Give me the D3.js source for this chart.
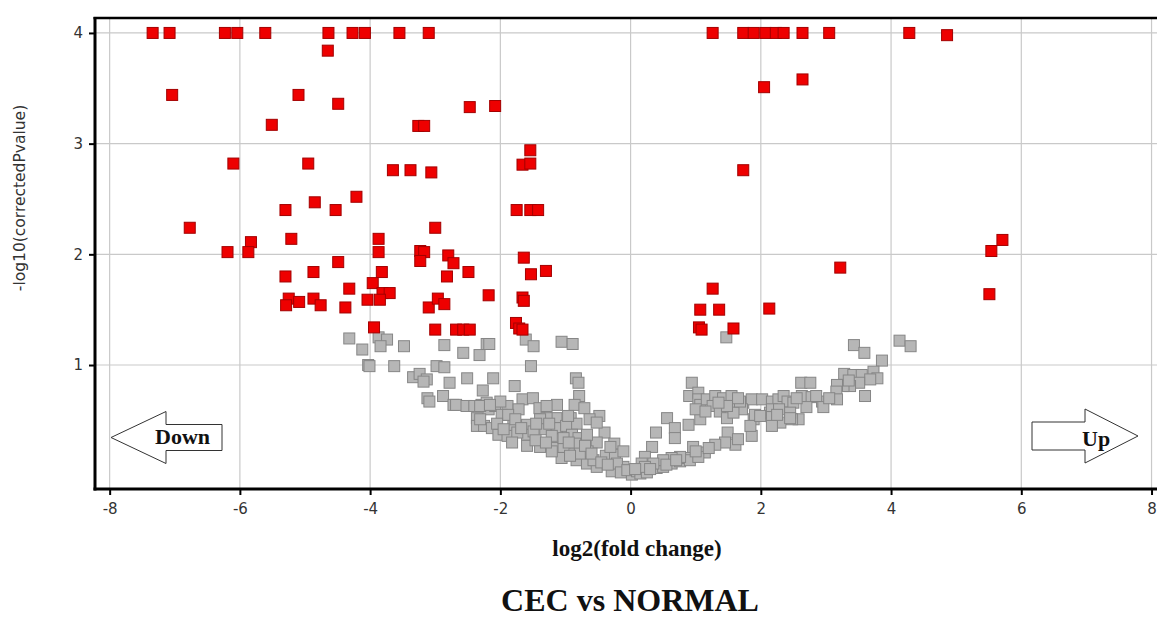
<!DOCTYPE html>
<html>
<head>
<meta charset="utf-8">
<script src="https://cdn.jsdelivr.net/npm/d3@7"></script>
<style>
  html, body { margin: 0; padding: 0; background: #fff; }
  svg { display: block; }
</style>
</head>
<body>
<svg id="chart" width="1157" height="619"></svg>
<script>
// Volcano plot: CEC vs NORMAL
// log2(fold change) on x, -log10(corrected p-value) on y

const xTicks = [-8, -6, -4, -2, 0, 2, 4, 6, 8];
const yTicks = [1, 2, 3, 4];

// significant genes [log2FC, -log10(p)]
const significant = [
  [-7.34, 4], [-7.08, 4], [-6.23, 4], [-6.04, 4], [-5.61, 4], [-4.64, 4], [-4.27, 4], [-4.08, 4],
  [-3.55, 4], [-3.10, 4], [1.26, 4], [1.73, 4], [1.89, 4], [2.07, 4], [2.23, 4], [2.35, 4],
  [2.64, 4], [3.05, 4], [4.28, 4], [4.86, 3.98],
  [-4.65, 3.84], [-7.04, 3.44], [-5.10, 3.44], [-4.49, 3.36], [-5.51, 3.17], [-6.10, 2.82],
  [-4.95, 2.82], [-3.65, 2.76], [-3.38, 2.76], [-3.06, 2.74], [-4.21, 2.52], [-4.85, 2.47],
  [-5.30, 2.40], [-4.53, 2.40], [-6.77, 2.24], [-5.21, 2.14], [-3.87, 2.14], [-5.83, 2.11],
  [-6.19, 2.02], [-5.87, 2.02], [-3.87, 2.02], [-4.49, 1.93],
  [2.05, 3.51], [2.64, 3.58], [-2.47, 3.33], [-2.08, 3.34], [-3.26, 3.16], [-3.17, 3.16],
  [-1.54, 2.94], [-1.66, 2.81], [-1.54, 2.82], [1.73, 2.76], [-1.75, 2.40], [-1.54, 2.40],
  [-1.42, 2.40], [-3.00, 2.24], [5.71, 2.13], [5.54, 2.03], [5.51, 1.64], [3.22, 1.88], [2.13, 1.51],
  [-3.23, 2.03], [-3.17, 2.02], [-3.23, 1.94], [-2.80, 1.99], [-2.72, 1.92], [-1.64, 1.97],
  [-5.30, 1.80], [-4.87, 1.84], [-3.82, 1.84], [-2.82, 1.80], [-2.49, 1.84], [-1.53, 1.82],
  [-1.30, 1.85], [-4.32, 1.69], [-3.96, 1.74], [-3.81, 1.65], [-3.70, 1.65], [-2.18, 1.63],
  [-1.66, 1.61], [-1.64, 1.58], [-5.25, 1.60], [-5.09, 1.57], [-4.87, 1.60], [-4.76, 1.54],
  [-4.38, 1.52], [-4.04, 1.59], [-3.85, 1.59], [-5.29, 1.54], [-3.10, 1.52], [-2.96, 1.60],
  [-2.86, 1.55], [-3.94, 1.34], [-3.00, 1.32], [-2.68, 1.32], [-2.57, 1.32], [-2.47, 1.32],
  [-1.76, 1.38], [-1.71, 1.33], [-1.66, 1.32], [1.26, 1.69], [1.07, 1.50], [1.36, 1.50],
  [1.05, 1.34], [1.09, 1.32], [1.58, 1.33]
];

// genes below the significance cut-off [log2FC, -log10(p)]
const notSignificant = [
  [-4.32, 1.24], [-4.12, 1.14], [-3.87, 1.25], [-3.74, 1.23], [-3.84, 1.17], [-3.48, 1.17],
  [-4.03, 1.00], [-4.01, 0.99], [-3.63, 0.99], [-2.86, 1.18], [-2.57, 1.11], [-2.32, 1.09],
  [-2.21, 1.19], [-2.98, 0.99], [-2.86, 0.98], [-3.34, 0.89], [-3.24, 0.92], [-3.13, 0.87],
  [-3.18, 0.85], [-2.78, 0.84], [-2.51, 0.88], [-2.27, 0.77], [-3.12, 0.70], [-3.09, 0.67],
  [-2.88, 0.72], [-2.72, 0.64], [-2.68, 0.64], [-2.52, 0.63], [-2.40, 0.63], [-2.29, 0.64],
  [-2.36, 0.52], [-2.36, 0.45], [-2.25, 0.45], [-2.18, 0.60],
  [-2.17, 1.19], [-1.61, 1.23], [-1.49, 1.17], [-1.06, 1.21], [-0.89, 1.19], [-1.53, 0.99],
  [-2.11, 0.88], [-1.78, 0.81], [-0.84, 0.88], [-0.80, 0.84], [-0.79, 0.72], [-1.66, 0.69],
  [-1.50, 0.70], [-0.86, 0.64], [-0.71, 0.61], [-1.40, 0.61], [-2.08, 0.63], [-1.89, 0.63],
  [-1.72, 0.60], [-0.48, 0.54], [-0.63, 0.51], [-0.92, 0.52], [-0.83, 0.47], [-1.14, 0.52],
  [-1.16, 0.43], [-1.29, 0.52], [-1.39, 0.51], [-1.59, 0.46], [-1.80, 0.45], [-1.98, 0.55],
  [-2.13, 0.43], [-2.31, 0.51], [-2.03, 0.37], [-1.89, 0.36], [-1.59, 0.37], [-1.74, 0.39],
  [-1.31, 0.42], [-1.13, 0.43], [-0.99, 0.45], [-0.90, 0.37], [-0.80, 0.34], [-0.40, 0.39],
  [-0.25, 0.29], [-0.52, 0.30], [-1.82, 0.30], [-1.59, 0.27], [-1.39, 0.26], [-1.19, 0.25],
  [-1.03, 0.26], [-0.85, 0.29], [-1.06, 0.16], [-0.83, 0.14], [-0.66, 0.22], [-0.67, 0.11],
  [-0.52, 0.08], [-0.38, 0.18], [-0.24, 0.19], [-0.29, 0.04], [-0.11, 0.08], [0.02, 0.01],
  [-2.21, 0.66], [-2.00, 0.67], [-1.88, 0.55], [-1.77, 0.51], [-1.49, 0.40], [-1.21, 0.36],
  [-0.67, 0.37], [-1.03, 0.34], [-1.13, 0.64], [-1.29, 0.63], [-0.96, 0.54], [-0.52, 0.48],
  [-0.31, 0.26], [-0.11, 0.22], [-0.21, 0.11], [-0.57, 0.14], [-0.78, 0.20], [-0.93, 0.18],
  [-1.21, 0.22], [-2.31, 0.63], [-2.16, 0.64],
  [-2.05, 0.47], [-1.95, 0.42], [-1.68, 0.43], [-1.45, 0.47], [-1.25, 0.47], [-1.46, 0.32],
  [-1.30, 0.30], [-0.95, 0.30], [-0.70, 0.27], [-0.60, 0.20], [-0.45, 0.12], [-0.35, 0.10],
  [-0.15, 0.03], [-0.05, 0.05],
  [1.47, 1.25], [0.94, 0.84], [0.90, 0.72], [1.04, 0.75], [1.04, 0.69], [1.07, 0.64],
  [1.17, 0.69], [1.30, 0.72], [1.42, 0.70], [1.55, 0.72], [1.26, 0.63], [1.37, 0.58],
  [1.48, 0.52], [1.58, 0.63], [1.73, 0.66], [1.86, 0.69], [2.02, 0.69], [1.71, 0.60],
  [1.89, 0.51], [1.86, 0.36], [0.89, 0.46], [1.07, 0.51], [1.49, 0.39], [1.61, 0.28],
  [1.45, 0.30], [1.30, 0.28], [0.56, 0.52], [0.68, 0.43], [0.68, 0.34], [0.39, 0.39],
  [0.33, 0.26], [0.22, 0.17], [0.17, 0.11], [0.10, 0.04], [0.15, 0.02], [0.25, 0.03],
  [0.40, 0.07], [0.50, 0.08], [0.63, 0.11], [0.76, 0.13], [0.84, 0.16], [0.96, 0.26],
  [0.91, 0.14], [1.14, 0.21], [1.04, 0.17], [2.17, 0.67], [2.27, 0.69], [2.14, 0.57],
  [2.30, 0.48], [1.84, 0.45], [0.76, 0.17], [0.63, 0.16], [0.50, 0.14], [0.35, 0.11],
  [0.22, 0.08], [1.91, 0.55], [1.58, 0.57], [1.68, 0.67], [1.48, 0.63],
  [0.07, 0.06], [0.30, 0.06], [0.55, 0.10], [0.70, 0.14], [1.00, 0.22], [1.20, 0.25],
  [1.65, 0.33], [1.00, 0.60], [1.15, 0.58], [1.35, 0.66], [1.65, 0.70],
  [3.43, 1.18], [3.59, 1.11], [3.86, 1.04], [4.13, 1.22], [4.30, 1.17], [3.28, 0.92],
  [3.42, 0.91], [3.55, 0.91], [3.73, 0.94], [3.79, 0.88], [3.68, 0.87], [3.51, 0.84],
  [3.37, 0.81], [3.27, 0.81], [3.17, 0.82], [3.16, 0.76], [3.17, 0.69], [3.60, 0.72],
  [2.62, 0.84], [2.76, 0.84], [2.63, 0.72], [2.78, 0.71], [2.94, 0.67], [2.96, 0.62],
  [2.70, 0.62], [2.58, 0.51], [2.48, 0.51], [2.35, 0.72], [2.41, 0.67], [2.50, 0.66],
  [2.17, 0.60], [2.28, 0.60], [2.17, 0.53], [2.17, 0.45], [2.45, 0.57], [2.45, 0.52],
  [1.99, 0.54], [2.55, 0.70], [2.85, 0.72], [3.05, 0.70], [3.35, 0.86], [2.25, 0.55]
];

const xTitle = "log2(fold change)";
const yTitle = "-log10(correctedPvalue)";
const chartTitle = "CEC vs NORMAL";

// ---- layout ----
const svg = d3.select("#chart");
const plot = { left: 95, right: 1160, top: 18, bottom: 489 };

const x = d3.scaleLinear().domain([-8.225, 8.13]).range([plot.left, plot.right]);
const y = d3.scaleLinear().domain([-0.12, 4.135]).range([plot.bottom, plot.top]);

const sans = "'DejaVu Sans', Verdana, sans-serif";
const serif = "'Liberation Serif', 'Times New Roman', serif";

svg.append("rect").attr("width", 1157).attr("height", 619).attr("fill", "#fff");

svg.append("defs").append("clipPath").attr("id", "plotClip")
  .append("rect")
  .attr("x", plot.left).attr("y", plot.top)
  .attr("width", plot.right - plot.left).attr("height", plot.bottom - plot.top);

// grid
const grid = svg.append("g").attr("stroke", "#c9c9c9").attr("stroke-width", 1.2);
grid.selectAll(".gx").data(xTicks).join("line")
  .attr("x1", d => x(d)).attr("x2", d => x(d))
  .attr("y1", plot.top).attr("y2", plot.bottom);
grid.selectAll(".gy").data(yTicks).join("line")
  .attr("x1", plot.left).attr("x2", plot.right)
  .attr("y1", d => y(d)).attr("y2", d => y(d));

// points
const size = 11;
const pts = svg.append("g").attr("clip-path", "url(#plotClip)");
pts.selectAll("rect.ns").data(notSignificant).join("rect")
  .attr("class", "ns")
  .attr("x", d => x(d[0]) - size / 2).attr("y", d => y(d[1]) - size / 2)
  .attr("width", size).attr("height", size)
  .attr("fill", "#b6b6b6").attr("stroke", "#868686").attr("stroke-width", 1);
pts.selectAll("rect.sig").data(significant).join("rect")
  .attr("class", "sig")
  .attr("x", d => x(d[0]) - size / 2).attr("y", d => y(d[1]) - size / 2)
  .attr("width", size).attr("height", size)
  .attr("fill", "#ee0000").attr("stroke", "#a30000").attr("stroke-width", 1);

// direction arrows
function arrow(dir, tipX, midY, headLen, headHalf, shaftLen, shaftHalf) {
  const s = dir;  // -1 pointing left, +1 pointing right
  const baseX = tipX - s * headLen;
  const endX = baseX - s * shaftLen;
  return [
    [tipX, midY],
    [baseX, midY - headHalf],
    [baseX, midY - shaftHalf],
    [endX, midY - shaftHalf],
    [endX, midY + shaftHalf],
    [baseX, midY + shaftHalf],
    [baseX, midY + headHalf]
  ];
}
const line = d3.line();
svg.append("path")
  .attr("d", line(arrow(-1, 111, 437.5, 55, 26, 56, 13)) + "Z")
  .attr("fill", "#fff").attr("stroke", "#333").attr("stroke-width", 1);
svg.append("text").attr("x", 155).attr("y", 444)
  .attr("font-family", serif).attr("font-weight", "bold").attr("font-size", 22)
  .attr("fill", "#111").text("Down");
svg.append("path")
  .attr("d", line(arrow(1, 1138, 436, 53, 27, 53, 14)) + "Z")
  .attr("fill", "#fff").attr("stroke", "#333").attr("stroke-width", 1);
svg.append("text").attr("x", 1082).attr("y", 446)
  .attr("font-family", serif).attr("font-weight", "bold").attr("font-size", 22)
  .attr("fill", "#111").text("Up");

// axes
const yAxis = svg.append("g").attr("transform", `translate(${plot.left},0)`)
  .call(d3.axisLeft(y).tickValues(yTicks).tickSize(6).tickPadding(6).tickFormat(d3.format("d")));
const xAxis = svg.append("g").attr("transform", `translate(0,${plot.bottom})`)
  .call(d3.axisBottom(x).tickValues(xTicks).tickSize(6).tickPadding(8)
    .tickFormat(d => (d < 0 ? "-" : "") + Math.abs(d)));
[yAxis, xAxis].forEach(g => {
  g.select(".domain").remove();
  g.selectAll(".tick line").attr("stroke", "#000").attr("stroke-width", 2);
  g.selectAll(".tick text").attr("font-family", sans).attr("font-size", 15).attr("fill", "#333");
});

// frame
const frame = svg.append("g").attr("stroke", "#000").attr("fill", "none");
frame.append("line").attr("x1", plot.left).attr("x2", plot.left)
  .attr("y1", plot.top - 1).attr("y2", plot.bottom + 1.5).attr("stroke-width", 3);
frame.append("line").attr("x1", plot.left - 1.5).attr("x2", plot.right)
  .attr("y1", plot.bottom).attr("y2", plot.bottom).attr("stroke-width", 3);
frame.append("line").attr("x1", plot.left - 1.5).attr("x2", plot.right)
  .attr("y1", plot.top).attr("y2", plot.top).attr("stroke-width", 2.5);

// titles
svg.append("text")
  .attr("transform", "translate(25,198) rotate(-90)")
  .attr("text-anchor", "middle")
  .attr("font-family", sans).attr("font-size", 15.5).attr("fill", "#333")
  .text(yTitle);
svg.append("text")
  .attr("x", 637).attr("y", 556).attr("text-anchor", "middle")
  .attr("font-family", serif).attr("font-weight", "bold").attr("font-size", 23)
  .attr("fill", "#111").text(xTitle);
svg.append("text")
  .attr("x", 630).attr("y", 611).attr("text-anchor", "middle")
  .attr("font-family", serif).attr("font-weight", "bold").attr("font-size", 32)
  .attr("fill", "#111").text(chartTitle);
</script>
</body>
</html>
